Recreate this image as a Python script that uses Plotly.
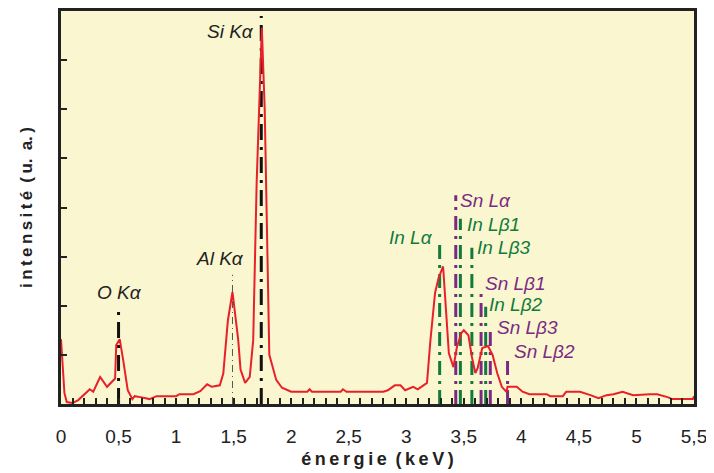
import plotly.graph_objects as go

# Spectrum (keV, intensity a.u.)
energy = [0.0, 0.03, 0.05, 0.1, 0.15, 0.22, 0.25, 0.28, 0.34, 0.4, 0.47, 0.48, 0.51, 0.54, 0.58, 0.62, 0.64, 0.69,
          0.77, 0.83, 1.0, 1.03, 1.15, 1.21, 1.27, 1.31, 1.38, 1.41, 1.45, 1.49, 1.54, 1.56, 1.6, 1.64, 1.67, 1.7,
          1.745, 1.77, 1.81, 1.87, 1.92, 2.0, 2.14, 2.16, 2.18, 2.43, 2.45, 2.48, 2.6, 2.8, 2.84, 2.9, 2.95, 2.99,
          3.06, 3.1, 3.18, 3.21, 3.25, 3.28, 3.32, 3.34, 3.37, 3.41, 3.44, 3.48, 3.5, 3.54, 3.57, 3.6, 3.62, 3.66,
          3.71, 3.75, 3.79, 3.83, 3.87, 3.88, 3.96, 4.01, 4.07, 4.22, 4.25, 4.36, 4.39, 4.45, 4.51, 4.6, 4.67, 4.74,
          4.8, 4.88, 4.97, 5.12, 5.18, 5.27, 5.31, 5.49, 5.5]
intensity = [1.32, 0.22, 0.04, 0.02, 0.08, 0.22, 0.3, 0.25, 0.55, 0.35, 0.52, 1.2, 1.32, 0.9, 0.28, 0.1, 0.16, 0.14,
             0.1, 0.16, 0.16, 0.2, 0.2, 0.26, 0.4, 0.35, 0.38, 0.62, 1.7, 2.28, 1.3, 0.7, 0.43, 0.55, 1.3, 4.5,
             7.66, 6.0, 1.0, 0.49, 0.33, 0.25, 0.25, 0.3, 0.25, 0.25, 0.3, 0.25, 0.25, 0.25, 0.28, 0.38, 0.38, 0.28,
             0.35, 0.3, 0.43, 1.3, 2.26, 2.56, 2.8, 2.0, 1.03, 0.75, 1.16, 1.45, 1.5, 1.4, 0.96, 0.63, 0.73, 1.14,
             1.18, 1.0, 0.63, 0.35, 0.25, 0.35, 0.35, 0.25, 0.2, 0.2, 0.16, 0.16, 0.25, 0.25, 0.25, 0.18, 0.12, 0.18,
             0.2, 0.25, 0.18, 0.2, 0.2, 0.14, 0.1, 0.1, 0.16]

# Emission line markers
line_names = ["O Kα", "Al Kα", "Si Kα", "In Lα", "Sn Lα", "In Lβ1", "In Lβ3", "Sn Lβ1", "In Lβ2", "Sn Lβ3", "Sn Lβ2"]
line_energy = [0.5, 1.49, 1.74, 3.29, 3.43, 3.47, 3.57, 3.65, 3.69, 3.73, 3.88]
line_top = [1.92, 2.63, 7.9, 3.3, 4.25, 3.77, 3.18, 2.36, 1.98, 1.57, 0.96]
line_kind = ["black", "grey", "black", "In", "Sn", "In", "In", "Sn", "In", "Sn", "Sn"]

# Label placement (data coordinates)
label_x = [0.51, 1.38, 1.69, 3.25, 3.45, 3.51, 3.6, 3.67, 3.70, 3.77, 3.92]
label_y = [2.26, 2.97, 7.58, 3.38, 4.15, 3.65, 3.18, 2.46, 2.02, 1.55, 1.06]
label_anchor = ["center", "center", "right", "right", "left", "left", "left", "left", "left", "left", "left"]

tick_vals = [0, 0.5, 1, 1.5, 2, 2.5, 3, 3.5, 4, 4.5, 5, 5.5]
tick_text = ["0", "0,5", "1", "1,5", "2", "2,5", "3", "3,5", "4", "4,5", "5", "5,5"]

colors = {"black": "#111111", "grey": "#555555", "In": "#127A3C", "Sn": "#7A2A82"}
widths = {"black": 3, "grey": 1, "In": 3, "Sn": 3}
dashes = {"black": "16px,7px,3px,7px", "grey": "7px,4px,1px,4px", "In": "14px,6px,3px,6px", "Sn": "14px,6px,3px,6px"}
text_colors = {"black": "#222222", "grey": "#222222", "In": "#127A3C", "Sn": "#7A2A82"}

fig = go.Figure()

for name, e, top, kind in zip(line_names, line_energy, line_top, line_kind):
    fig.add_trace(go.Scatter(x=[e, e], y=[0, top], mode="lines",
                             line=dict(color=colors[kind], width=widths[kind], dash=dashes[kind]),
                             hoverinfo="skip", showlegend=False))

fig.add_trace(go.Scatter(x=energy, y=intensity, mode="lines",
                         line=dict(color="#E8202A", width=2), showlegend=False))

for name, lx, ly, anc, kind in zip(line_names, label_x, label_y, label_anchor, line_kind):
    fig.add_annotation(x=lx, y=ly, xref="x", yref="y", text="<i>" + name + "</i>",
                       showarrow=False, xanchor=anc, yanchor="middle",
                       font=dict(family="Liberation Sans, Arial", size=19, color=text_colors[kind]))

# page body has an 8px default margin: figure is sized/offset to fit the 714x473 window
fig.update_layout(
    width=706, height=465,
    margin=dict(l=53, r=20, t=3, b=69),
    paper_bgcolor="white",
    plot_bgcolor="#FAF7D0",
    font=dict(family="Liberation Sans, Arial", size=18, color="#222222"),
    showlegend=False,
)

fig.update_xaxes(
    range=[0, 5.5], tickvals=tick_vals, ticktext=tick_text, automargin=False,
    tickfont=dict(size=19),
    ticks="inside", ticklen=6, tickwidth=1.5, tickcolor="#222222",
    minor=dict(dtick=0.1, ticks="inside", ticklen=6, tickwidth=1.5, tickcolor="#222222"),
    showline=True, linecolor="#222222", linewidth=2.5, mirror=True,
    showgrid=False, zeroline=False, ticklabelstandoff=13,
    title=dict(text="<b>é\u2009n\u2009e\u2009r\u2009g\u2009i\u2009e\u2009 (\u2009k\u2009e\u2009V\u2009)</b>",
               font=dict(size=18), standoff=7),
)
fig.update_yaxes(
    range=[0, 8], dtick=1, showticklabels=False, automargin=False,
    ticks="inside", ticklen=6, tickwidth=1.5, tickcolor="#222222",
    showline=True, linecolor="#222222", linewidth=2.5, mirror=True,
    showgrid=False, zeroline=False,
    title=dict(text="<b>i\u2009n\u2009t\u2009e\u2009n\u2009s\u2009i\u2009t\u2009é\u2009 (\u2009u.\u2009 a.\u2009)</b>",
               font=dict(size=17), standoff=22),
)

fig.write_html("out.html")
